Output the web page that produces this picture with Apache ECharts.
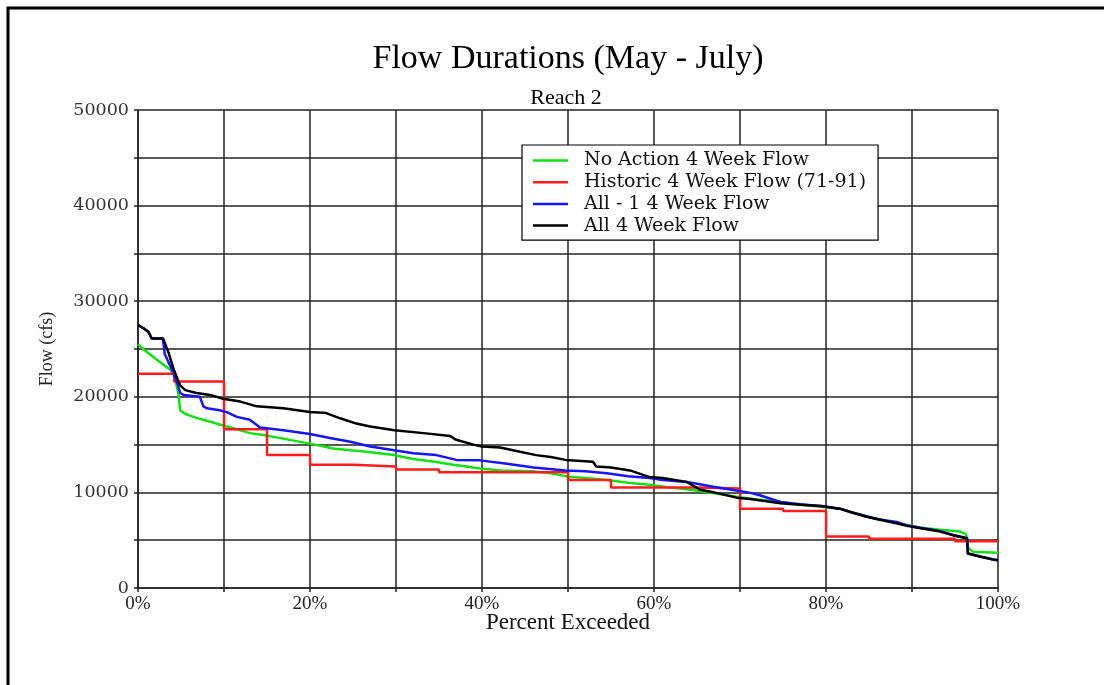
<!DOCTYPE html>
<html>
<head>
<meta charset="utf-8">
<script src="https://cdn.jsdelivr.net/npm/echarts@6/dist/echarts.min.js"></script>
<style>
  html, body { margin: 0; padding: 0; background: #fff; }
  #chart { width: 1104px; height: 685px; }
</style>
</head>
<body>
<div id="chart"></div>
<script>
// Flow duration curves, Reach 2, May - July: [percent exceeded, flow in cfs]
const noActionFlow = [
  [0, 25500], [0.6, 25000], [2, 24000], [3.2, 23200], [4.1, 22600], [4.4, 21500],
  [4.7, 20300], [4.9, 18600], [5.5, 18200], [6.8, 17800], [8, 17500], [9.5, 17100],
  [11.9, 16500], [13, 16200], [14.6, 16000], [17, 15600], [20, 15100], [22.7, 14600],
  [24.7, 14400], [26, 14300], [29.8, 13900], [32, 13500], [34.5, 13200], [36.7, 12900],
  [39.8, 12500], [42.1, 12300], [46, 12200], [48, 12000], [50, 11650], [52, 11500],
  [54.5, 11300], [57, 11000], [59.5, 10800], [62, 10500], [64.5, 10250], [67, 9900],
  [69.6, 9550], [71.5, 9300], [74.7, 9000], [77, 8700], [79.5, 8500], [81.6, 8300],
  [83, 7900], [84.7, 7500], [87, 7000], [89.4, 6600], [91, 6300], [93.3, 6100],
  [95.6, 5900], [96.3, 5600], [96.5, 4200], [97.1, 3800], [100, 3700]
];

// Historic record is a step series: each value holds until the next percent
const historicFlow = [
  [0, 22400], [4.2, 21600], [10, 16600], [15, 13900], [20, 12900], [25, 12700],
  [30, 12400], [35, 12100], [50, 11300], [55, 10500], [65, 10400], [70, 8300],
  [75, 8050], [80, 5400], [85, 5150], [95, 4900], [100, 4900]
];

const allMinusOneFlow = [
  [0, 27500], [0.6, 27200], [1.2, 26800], [1.6, 26100], [2.9, 26100], [3.1, 24500],
  [3.6, 23500], [4.1, 22500], [4.5, 21600], [4.9, 20400], [5.3, 20200], [7.2, 20000],
  [7.6, 19000], [8, 18800], [9.5, 18600], [10.3, 18400], [11.5, 17900], [13, 17600],
  [14.2, 16800], [16.9, 16500], [20, 16100], [22.3, 15700], [24.7, 15300], [27, 14800],
  [29.8, 14400], [32, 14100], [34.7, 13900], [37, 13400], [39.8, 13350], [42.9, 13000],
  [46, 12600], [49.7, 12300], [52, 12200], [54.5, 12000], [57, 11700], [59.5, 11500],
  [61, 11300], [63.8, 11100], [65, 10900], [66.9, 10600], [69.6, 10200], [71.2, 9950],
  [72.3, 9700], [74.7, 9000], [77, 8750], [79.5, 8550], [81.6, 8300], [83, 7900],
  [84.7, 7500], [86, 7200], [88.2, 6900], [89.4, 6550], [91, 6300], [93.3, 5950],
  [94.8, 5550], [96.4, 5200], [96.5, 3600], [97.9, 3300], [99.3, 3000], [100, 2900]
];

const allFlow = [
  [0, 27500], [0.6, 27200], [1.2, 26800], [1.6, 26100], [2.9, 26100], [3.3, 25200],
  [3.6, 24500], [4.1, 23000], [4.7, 21600], [4.9, 21200], [5.5, 20700], [6.8, 20400],
  [8.4, 20200], [9.9, 19800], [11.9, 19500], [13.8, 19000], [16.9, 18800], [20, 18400],
  [21.9, 18300], [23.5, 17750], [25.4, 17200], [27, 16900], [29.8, 16500], [33.2, 16200],
  [36.3, 15900], [37, 15500], [39, 15000], [40, 14800], [42.1, 14700], [43.6, 14400],
  [46.3, 13900], [48, 13700], [49.7, 13400], [52.9, 13200], [53.3, 12700], [55, 12600],
  [57.2, 12300], [59.5, 11600], [61, 11500], [63.8, 11100], [65.3, 10300], [67, 10000],
  [69.6, 9450], [71.2, 9300], [74.7, 8860], [77, 8700], [79.5, 8580], [81.6, 8300],
  [84.7, 7460], [88.2, 6770], [89.4, 6500], [91, 6250], [93.3, 5900], [94.8, 5500],
  [96.4, 5200], [96.5, 3600], [97.9, 3300], [99.3, 3000], [100, 2900]
];

const seriesNames = [
  'No Action 4 Week Flow',
  'Historic 4 Week Flow (71-91)',
  'All - 1 4 Week Flow',
  'All 4 Week Flow'
];
const seriesColors = ['#12e012', '#ff1c1c', '#1414ff', '#000000'];

// Labelled ticks; grid lines fall at every 10% and every 5000 cfs
const xTickLabels = [0, 20, 40, 60, 80, 100];
const yTickLabels = [0, 10000, 20000, 30000, 40000, 50000];

const serif = '"Liberation Serif", "Times New Roman", serif';
const wideSerif = '"DejaVu Serif", serif';

const chart = echarts.init(document.getElementById('chart'), null, { renderer: 'canvas' });

function lineSeries(name, data, color, extra) {
  return Object.assign({
    name: name,
    type: 'line',
    data: data,
    symbol: 'none',
    color: color,
    lineStyle: { color: color, width: 2.5 },
    animation: false
  }, extra || {});
}

chart.setOption({
  backgroundColor: '#ffffff',
  animation: false,
  title: [
    {
      text: 'Flow Durations (May - July)',
      left: 563, top: 37, textAlign: 'center',
      textStyle: { fontFamily: serif, fontSize: 34, fontWeight: 'normal', color: '#000' }
    },
    {
      text: 'Reach 2',
      left: 561, top: 82, textAlign: 'center',
      textStyle: { fontFamily: serif, fontSize: 22, fontWeight: 'normal', color: '#000' }
    }
  ],
  legend: {
    data: seriesNames,
    orient: 'vertical',
    left: 522, top: 145,
    backgroundColor: '#fff',
    borderColor: '#000', borderWidth: 1.2,
    padding: [6, 12, 5, 11],
    itemGap: 2.7,
    icon: 'rect',
    itemWidth: 35, itemHeight: 2.5,
    textStyle: {
      fontFamily: wideSerif, fontSize: 19, lineHeight: 19, color: '#111',
      padding: [0, 0, 0, 11]
    }
  },
  grid: { left: 138, right: 106, top: 110, bottom: 97, containLabel: false },
  xAxis: {
    type: 'value', min: 0, max: 100, interval: 10,
    name: 'Percent Exceeded', nameLocation: 'middle', nameGap: 23,
    nameMoveOverlap: false,
    nameTextStyle: { fontFamily: serif, fontSize: 23, color: '#111', verticalAlign: 'top' },
    axisLine: { show: true, lineStyle: { color: '#222', width: 1.5 } },
    axisTick: { show: true, length: 4, lineStyle: { color: '#222', width: 1.5 } },
    axisLabel: {
      margin: 7, fontFamily: serif, fontSize: 19, color: '#222',
      formatter: v => xTickLabels.indexOf(v) >= 0 ? v + '%' : ''
    },
    splitLine: { show: true, lineStyle: { color: '#222', width: 1.5 } }
  },
  yAxis: {
    type: 'value', min: 0, max: 50000, interval: 5000,
    name: 'Flow (cfs)', nameLocation: 'middle', nameGap: 82, nameRotate: 90,
    nameMoveOverlap: false,
    nameTextStyle: { fontFamily: serif, fontSize: 18, color: '#222' },
    axisLine: { show: true, lineStyle: { color: '#222', width: 1.5 } },
    axisTick: { show: true, length: 4, lineStyle: { color: '#222', width: 1.5 } },
    axisLabel: {
      margin: 9, fontFamily: wideSerif, fontSize: 17.5, color: '#333',
      formatter: v => yTickLabels.indexOf(v) >= 0 ? String(v) : ''
    },
    splitLine: { show: true, lineStyle: { color: '#222', width: 1.5 } }
  },
  graphic: [
    {
      type: 'rect', silent: true, z: 100,
      shape: { x: 8, y: 8, width: 1200, height: 800 },
      style: { fill: null, stroke: '#000', lineWidth: 3 }
    }
  ],
  series: [
    lineSeries(seriesNames[0], noActionFlow, seriesColors[0]),
    lineSeries(seriesNames[1], historicFlow, seriesColors[1], { step: 'end' }),
    lineSeries(seriesNames[2], allMinusOneFlow, seriesColors[2]),
    lineSeries(seriesNames[3], allFlow, seriesColors[3])
  ]
});
</script>
</body>
</html>
